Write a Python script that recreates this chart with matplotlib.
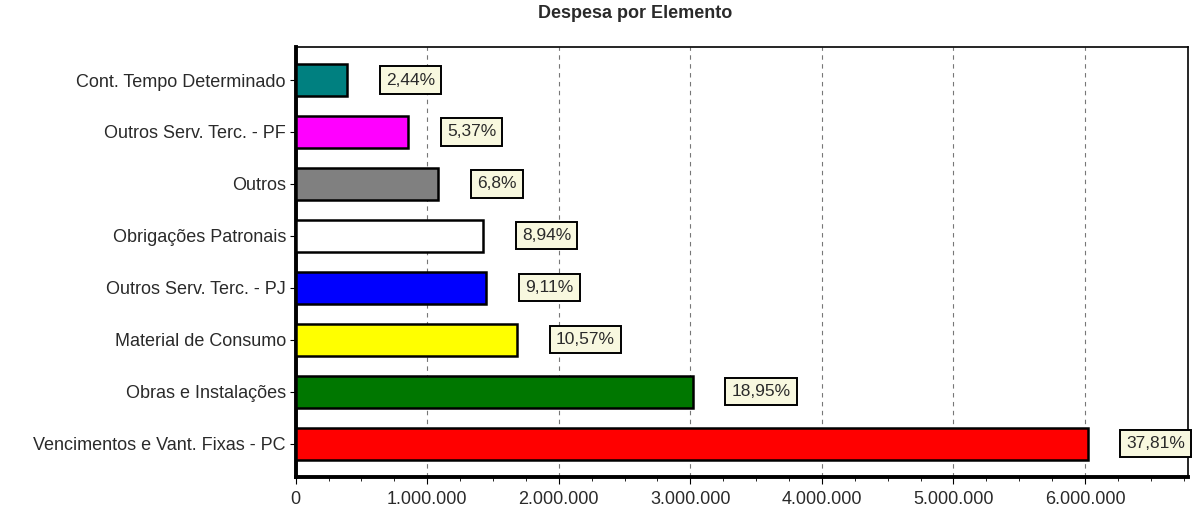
import matplotlib
matplotlib.use("Agg")
import matplotlib.pyplot as plt
from matplotlib.ticker import MultipleLocator, FuncFormatter

plt.rcParams['font.family'] = ['Liberation Sans', 'DejaVu Sans']

# data, bottom to top
categorias = ["Vencimentos e Vant. Fixas - PC", "Obras e Instalações", "Material de Consumo",
              "Outros Serv. Terc. - PJ", "Obrigações Patronais", "Outros",
              "Outros Serv. Terc. - PF", "Cont. Tempo Determinado"]
valores = [6020000, 3017000, 1683000, 1450000, 1423000, 1083000, 855000, 389000]
percentuais = ["37,81%", "18,95%", "10,57%", "9,11%", "8,94%", "6,8%", "5,37%", "2,44%"]
cores = ["#ff0000", "#007700", "#ffff00", "#0000ff", "#ffffff", "#808080", "#ff00ff", "#008080"]

texto = "#2a2a2a"

fig = plt.figure(figsize=(12.02, 5.11), dpi=100)
ax = fig.add_axes([0.246, 0.067, 0.742, 0.841])

ax.barh(range(len(valores)), valores, height=0.62, color=cores,
        edgecolor="black", linewidth=1.8, zorder=3)

for i, (v, p) in enumerate(zip(valores, percentuais)):
    ax.annotate(p, (v, i), xytext=(28, 0), textcoords="offset points",
                ha="left", va="center", fontsize=12.5, color=texto,
                bbox=dict(boxstyle="square,pad=0.35", fc="#f8f8df", ec="black", lw=1.4),
                zorder=4, annotation_clip=False)

ax.set_yticks(range(len(valores)))
ax.set_yticklabels(categorias, fontsize=13, color=texto)
ax.set_ylim(-0.635, 7.635)
ax.set_xlim(0, 6780000)
ax.xaxis.set_major_locator(MultipleLocator(1000000))
ax.xaxis.set_minor_locator(MultipleLocator(250000))
ax.xaxis.set_major_formatter(FuncFormatter(lambda x, pos: f"{int(x):,}".replace(",", ".")))
ax.tick_params(axis="x", labelsize=13, labelcolor=texto, length=5, pad=5)
ax.tick_params(axis="x", which="minor", length=3)
ax.tick_params(axis="y", length=4, pad=3)
ax.grid(axis="x", linestyle=(0, (4, 4)), color="#777777", linewidth=0.8, zorder=0)

ax.spines["left"].set_linewidth(2.8)
ax.spines["bottom"].set_linewidth(2.8)
ax.spines["top"].set_linewidth(1.2)
ax.spines["right"].set_linewidth(1.2)

fig.suptitle("Despesa por Elemento", fontsize=13, fontweight="bold", color=texto,
             y=0.99, x=0.528)

fig.savefig("out.png", dpi=100)
